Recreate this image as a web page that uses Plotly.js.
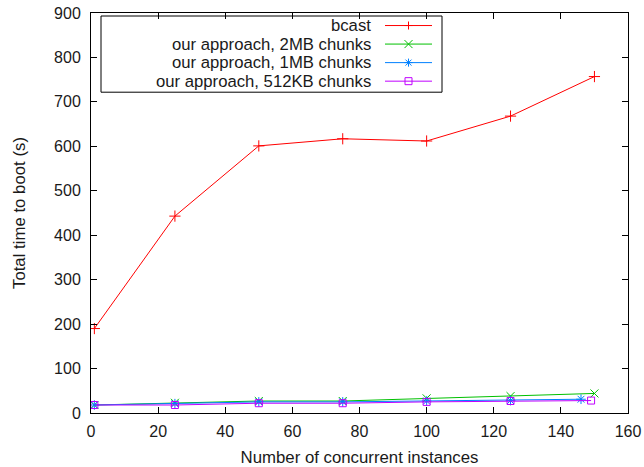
<!DOCTYPE html>
<html>
<head>
<meta charset="utf-8">
<script src="https://cdn.plot.ly/plotly-3.0.1.min.js"></script>
<style>
  html, body { margin: 0; padding: 0; background: #fff; }
  #chart { width: 644px; height: 467px; }
</style>
</head>
<body>
<div id="chart"></div>
<script>
// Boot time measurements versus number of concurrent instances
const seriesNames = [
  'bcast',
  'our approach, 2MB chunks',
  'our approach, 1MB chunks',
  'our approach, 512KB chunks'
];
const xBcast = [1, 25, 50, 75, 100, 125, 150];
const yBcast = [190, 443, 601, 617, 612, 668, 757];
const x2MB = [1, 25, 50, 75, 100, 125, 150];
const y2MB = [18, 23, 27, 27, 33, 38, 44];
const x1MB = [1, 25, 50, 75, 100, 125, 146];
const y1MB = [18, 21, 25, 25, 27, 28, 31];
const x512KB = [1, 25, 50, 75, 100, 125, 149];
const y512KB = [18, 18, 22, 22, 25, 27, 28];

const xTicks = [0, 20, 40, 60, 80, 100, 120, 140, 160];
const yTicks = [0, 100, 200, 300, 400, 500, 600, 700, 800, 900];

const colors = ['#ff0000', '#00c000', '#0080ff', '#c000ff'];
const symbols = ['cross-thin-open', 'x-thin-open', 'asterisk-open', 'square-open'];
const xs = [xBcast, x2MB, x1MB, x512KB];
const ys = [yBcast, y2MB, y1MB, y512KB];

const FONT = 'Liberation Sans, Arial, sans-serif';
const TEXT = '#1a1a1a';

const traces = seriesNames.map((name, i) => ({
  type: 'scatter',
  mode: 'lines+markers',
  name: name,
  x: xs[i],
  y: ys[i],
  line: { color: colors[i], width: 1 },
  marker: {
    symbol: symbols[i],
    size: i === 3 ? 7 : 8,
    color: colors[i],
    line: { color: colors[i], width: 1 }
  },
  showlegend: false,
  hoverinfo: 'x+y'
}));

// Key box in the upper left: right-aligned labels with a line sample and marker to their right
const px = v => (v - 91) / 537;
const py = v => (413 - v) / 399;
const shapes = [{
  type: 'rect', xref: 'paper', yref: 'paper',
  x0: px(101), x1: px(442),
  y0: py(93), y1: py(17),
  line: { color: '#000', width: 1 }, fillcolor: 'rgba(0,0,0,0)'
}];
const annotations = [];
const rowY = [26.5, 45, 63.5, 82];

// marker glyph paths drawn in pixel space, converted to paper coords
function markerPath(kind, cx, cy) {
  const r = 4;
  const P = (x, y) => px(x).toFixed(5) + ',' + py(y).toFixed(5);
  if (kind === 0) {
    return 'M' + P(cx - r, cy) + 'L' + P(cx + r, cy) + 'M' + P(cx, cy - r) + 'L' + P(cx, cy + r);
  } else if (kind === 1) {
    return 'M' + P(cx - r, cy - r) + 'L' + P(cx + r, cy + r) + 'M' + P(cx - r, cy + r) + 'L' + P(cx + r, cy - r);
  } else if (kind === 2) {
    return 'M' + P(cx - r, cy) + 'L' + P(cx + r, cy) + 'M' + P(cx, cy - r) + 'L' + P(cx, cy + r) +
           'M' + P(cx - 3, cy - 3) + 'L' + P(cx + 3, cy + 3) + 'M' + P(cx - 3, cy + 3) + 'L' + P(cx + 3, cy - 3);
  }
  const s = 3.5;
  return 'M' + P(cx - s, cy - s) + 'L' + P(cx + s, cy - s) + 'L' + P(cx + s, cy + s) + 'L' + P(cx - s, cy + s) + 'Z';
}

seriesNames.forEach((name, i) => {
  const yy = rowY[i];
  annotations.push({
    xref: 'paper', yref: 'paper',
    x: px(373), y: py(yy),
    xanchor: 'right', yanchor: 'middle',
    text: name, showarrow: false,
    font: { family: FONT, size: 16.7, color: TEXT }
  });
  shapes.push({
    type: 'line', xref: 'paper', yref: 'paper',
    x0: px(385), x1: px(432), y0: py(yy), y1: py(yy),
    line: { color: colors[i], width: 1 }
  });
  shapes.push({
    type: 'path', xref: 'paper', yref: 'paper',
    path: markerPath(i, 408.5, yy),
    line: { color: colors[i], width: 1 },
    fillcolor: 'rgba(0,0,0,0)'
  });
});

const axisCommon = {
  showgrid: false,
  zeroline: false,
  showline: true,
  linecolor: '#000',
  linewidth: 1,
  mirror: 'allticks',
  ticks: 'inside',
  ticklen: 6,
  tickcolor: '#000',
  tickwidth: 1,
  automargin: false,
  tickfont: { family: FONT, size: 16, color: TEXT }
};

const layout = {
  width: 644,
  height: 467,
  margin: { l: 91, r: 16, t: 13, b: 54 },
  paper_bgcolor: '#fff',
  plot_bgcolor: '#fff',
  font: { family: FONT, size: 16, color: TEXT },
  xaxis: Object.assign({}, axisCommon, {
    range: [0, 160],
    tickvals: xTicks,
    ticktext: xTicks.map(String),
    ticklabelstandoff: 4,
    title: { text: 'Number of concurrent instances', font: { family: FONT, size: 16.8, color: TEXT }, standoff: 14 }
  }),
  yaxis: Object.assign({}, axisCommon, {
    range: [0, 900],
    tickvals: yTicks,
    ticktext: yTicks.map(String),
    ticklabelstandoff: 6,
    title: { text: 'Total time to boot (s)', font: { family: FONT, size: 16.8, color: TEXT }, standoff: 24 }
  }),
  shapes: shapes,
  annotations: annotations,
  showlegend: false
};

Plotly.newPlot('chart', traces, layout, { displayModeBar: false, staticPlot: true });
</script>
</body>
</html>
